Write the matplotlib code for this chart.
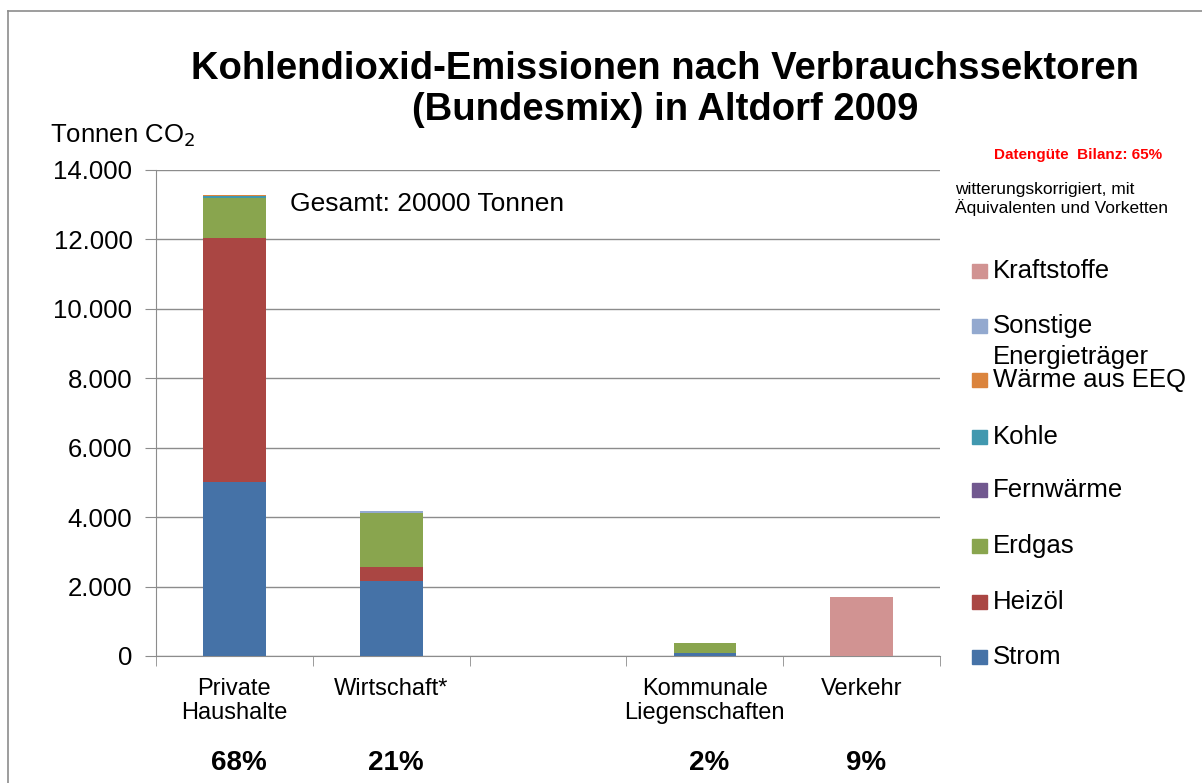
import matplotlib
matplotlib.use("Agg")
import matplotlib.pyplot as plt
import numpy as np
from matplotlib.patches import Rectangle
from matplotlib.lines import Line2D
from matplotlib.ticker import FuncFormatter

plt.rcParams['font.family'] = ['Liberation Sans', 'DejaVu Sans']

categories = ['Private\nHaushalte', 'Wirtschaft*', '', 'Kommunale\nLiegenschaften', 'Verkehr']
shares = ['68%', '21%', '', '2%', '9%']

# Tonnen CO2 per sector and energy carrier
series_names = ['Strom', 'Heizöl', 'Erdgas', 'Fernwärme', 'Kohle',
                'Wärme aus EEQ', 'Sonstige\nEnergieträger', 'Kraftstoffe']
strom = [5000, 2170, 0, 100, 0]
heizoel = [7030, 380, 0, 0, 0]
erdgas = [1160, 1570, 0, 260, 0]
fernwaerme = [0, 0, 0, 0, 0]
kohle = [40, 0, 0, 0, 0]
waerme_eeq = [40, 0, 0, 0, 0]
sonstige = [0, 40, 0, 0, 0]
kraftstoffe = [0, 0, 0, 0, 1710]
series_values = [strom, heizoel, erdgas, fernwaerme, kohle, waerme_eeq, sonstige, kraftstoffe]

colors = ['#4572A7', '#AA4643', '#89A54E', '#71588F', '#4198AF',
          '#DB843D', '#93A9CF', '#D19392']

fig = plt.figure(figsize=(12.02, 7.83), dpi=100)
ax = fig.add_axes([0.1298, 0.1622, 0.6523, 0.6213])

x = np.arange(len(categories))
bottom = np.zeros(len(categories))
for vals, c in zip(series_values, colors):
    vals = np.array(vals, dtype=float)
    ax.bar(x, vals, width=0.4, bottom=bottom, color=c, edgecolor='none', zorder=3)
    bottom += vals

ax.set_xlim(-0.5, len(categories) - 0.5)
ax.set_ylim(0, 14000)
ax.set_yticks(np.arange(0, 14001, 2000))
ax.yaxis.set_major_formatter(FuncFormatter(lambda v, p: f'{int(v):,}'.replace(',', '.')))
ax.grid(axis='y', color='#8c8c8c', linewidth=1, zorder=0)
ax.set_xticks(x)
ax.set_xticklabels(categories, fontsize=17, linespacing=1.12)
ax.set_xticks(np.arange(-0.5, len(categories), 1), minor=True)
ax.tick_params(axis='x', which='major', length=0, pad=16)
ax.tick_params(axis='x', which='minor', length=7, color='#8c8c8c', direction='out')
ax.tick_params(axis='y', labelsize=18.5, length=8, color='#8c8c8c', pad=9)
for s in ['top', 'right']:
    ax.spines[s].set_visible(False)
for s in ['left', 'bottom']:
    ax.spines[s].set_color('#8c8c8c')

# percentage row below the categories
for xi, s in zip(x, shares):
    if s:
        ax.text(xi + 0.03, -0.22, s, transform=ax.get_xaxis_transform(),
                ha='center', va='center', fontsize=20, fontweight='bold')

ax.text(0.355, 13000, 'Gesamt: 20000 Tonnen', fontsize=19, ha='left', va='center')

fig.text(665 / 1202, 1 - 69 / 783, 'Kohlendioxid-Emissionen nach Verbrauchssektoren',
         ha='center', va='center', fontsize=27.5, fontweight='bold')
fig.text(665 / 1202, 1 - 110 / 783, '(Bundesmix) in Altdorf 2009',
         ha='center', va='center', fontsize=27.5, fontweight='bold')
fig.text(50 / 1202, 1 - 136 / 783, 'Tonnen CO$_2$', ha='left', va='center', fontsize=18.5)

fig.text(1078 / 1202, 1 - 155 / 783, 'Datengüte  Bilanz: 65%', color='red',
         ha='center', va='center', fontsize=11, fontweight='bold')
fig.text(955 / 1202, 1 - 199 / 783, 'witterungskorrigiert, mit\nÄquivalenten und Vorketten',
         ha='left', va='center', fontsize=12.5, linespacing=1.2)

# legend (reversed order, Excel style)
legend_y = [657, 602, 546, 490, 437, 380, 326, 271]
for name, c, yp in zip(series_names, colors, legend_y):
    fig.patches.append(Rectangle((972 / 1202, 1 - (yp + 7) / 783), 15 / 1202, 14 / 783,
                                 transform=fig.transFigure, color=c))
    fig.text(993 / 1202, 1 - yp / 783, name.split('\n')[0], ha='left', va='center', fontsize=18.5)
    if '\n' in name:
        fig.text(993 / 1202, 1 - (yp + 31) / 783, name.split('\n')[1], ha='left', va='center', fontsize=18.5)

# outer frame (left and top edges)
fig.add_artist(Line2D([8 / 1202, 8 / 1202], [0, 1 - 11 / 783], transform=fig.transFigure,
                      color='#8c8c8c', linewidth=1.2))
fig.add_artist(Line2D([8 / 1202, 1], [1 - 11 / 783, 1 - 11 / 783], transform=fig.transFigure,
                      color='#8c8c8c', linewidth=1.2))

fig.savefig('out.png', dpi=100)
